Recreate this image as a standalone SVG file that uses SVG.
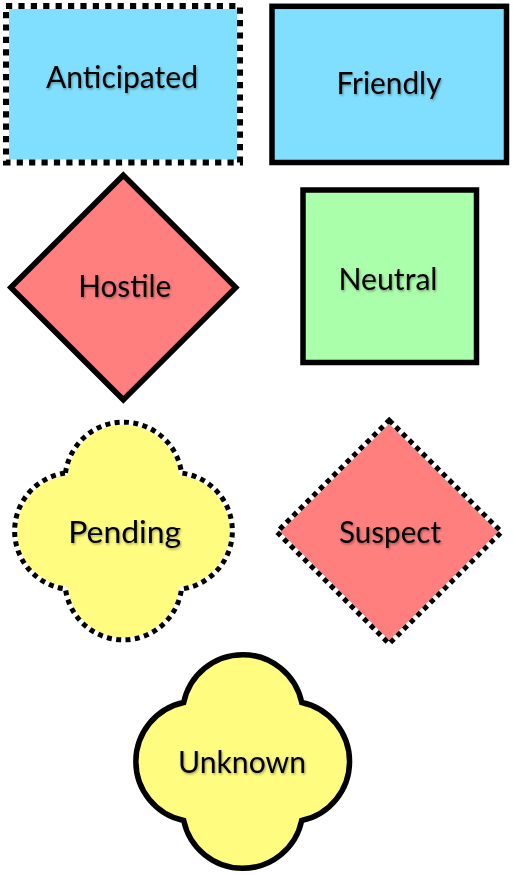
<svg xmlns="http://www.w3.org/2000/svg" width="513" height="875" viewBox="0 0 513 875">
  <defs>
    <filter id="ts" x="-10%" y="-30%" width="120%" height="160%">
      <feDropShadow dx="1" dy="1.5" stdDeviation="0.8" flood-color="#000" flood-opacity="0.35"/>
    </filter>
  </defs>
  <style>
    .lbl { font-family: Lato, "Open Sans", "Liberation Sans", sans-serif; font-size: 30px; fill: #000; text-anchor: middle; filter: url(#ts); }
    .solid { stroke: #000; stroke-width: 5.5; stroke-linejoin: miter; }
    .under { fill: none; stroke: #fff; }
    .dashA { fill: none; stroke: #000; stroke-width: 6; stroke-dasharray: 6.2 6.2; }
    .dashB { fill: none; stroke: #000; stroke-width: 5; stroke-dasharray: 5 4.4; }
    .blue { fill: #80DFFF; }
    .red { fill: #FF7F7F; }
    .green { fill: #AAFFAA; }
    .yellow { fill: #FFFC80; }
  </style>
  <rect width="513" height="875" fill="#fff"/>

  <g id="anticipated">
    <rect x="6" y="6" width="234" height="156.5" class="blue"/>
    <rect x="6" y="6" width="234" height="156.5" class="under" stroke-width="6"/>
    <rect x="6" y="6" width="234" height="156.5" class="dashA"/>
    <text x="122" y="88.3" class="lbl" textLength="152" lengthAdjust="spacingAndGlyphs">Anticipated</text>
  </g>

  <g id="friendly">
    <rect x="272" y="6.3" width="234.5" height="156.2" class="blue solid" stroke-width="6"/>
    <text x="389" y="94" class="lbl" textLength="105" lengthAdjust="spacingAndGlyphs">Friendly</text>
  </g>

  <g id="hostile">
    <path d="M123.3,175.2 L235.8,287.5 L123.3,399.8 L10.8,287.5 Z" class="red solid"/>
    <text x="124.7" y="296.7" class="lbl" textLength="93" lengthAdjust="spacingAndGlyphs">Hostile</text>
  </g>

  <g id="neutral">
    <rect x="303" y="190" width="173.5" height="172.5" class="green solid" stroke-width="6"/>
    <text x="388" y="290" class="lbl" textLength="99" lengthAdjust="spacingAndGlyphs">Neutral</text>
  </g>

  <g id="pending">
    <path d="M65.5,473 A58.5,58.5 0 0 1 181.5,473 A58.5,58.5 0 0 1 181.5,589 A58.5,58.5 0 0 1 65.5,589 A58.5,58.5 0 0 1 65.5,473 Z" class="yellow"/>
    <path d="M65.5,473 A58.5,58.5 0 0 1 181.5,473 A58.5,58.5 0 0 1 181.5,589 A58.5,58.5 0 0 1 65.5,589 A58.5,58.5 0 0 1 65.5,473 Z" class="under" stroke-width="5"/>
    <path d="M65.5,473 A58.5,58.5 0 0 1 181.5,473 A58.5,58.5 0 0 1 181.5,589 A58.5,58.5 0 0 1 65.5,589 A58.5,58.5 0 0 1 65.5,473 Z" class="dashB"/>
    <text x="124.7" y="543.3" class="lbl" textLength="113" lengthAdjust="spacingAndGlyphs">Pending</text>
  </g>

  <g id="suspect">
    <path d="M389.2,420.2 L501.5,532 L389.2,643.8 L276.9,532 Z" class="red"/>
    <path d="M389.2,420.2 L501.5,532 L389.2,643.8 L276.9,532 Z" class="under" stroke-width="5"/>
    <path d="M389.2,420.2 L501.5,532 L389.2,643.8 L276.9,532 Z" class="dashB"/>
    <text x="390" y="543.3" class="lbl" textLength="102" lengthAdjust="spacingAndGlyphs">Suspect</text>
  </g>

  <g id="unknown">
    <path d="M183.7,702.5 A60.3,60.3 0 0 1 301.7,702.5 A60.3,60.3 0 0 1 301.7,820.5 A60.3,60.3 0 0 1 183.7,820.5 A60.3,60.3 0 0 1 183.7,702.5 Z" class="yellow solid"/>
    <text x="242" y="772.7" class="lbl" textLength="128" lengthAdjust="spacingAndGlyphs">Unknown</text>
  </g>

  <g id="connectors"></g>
</svg>
